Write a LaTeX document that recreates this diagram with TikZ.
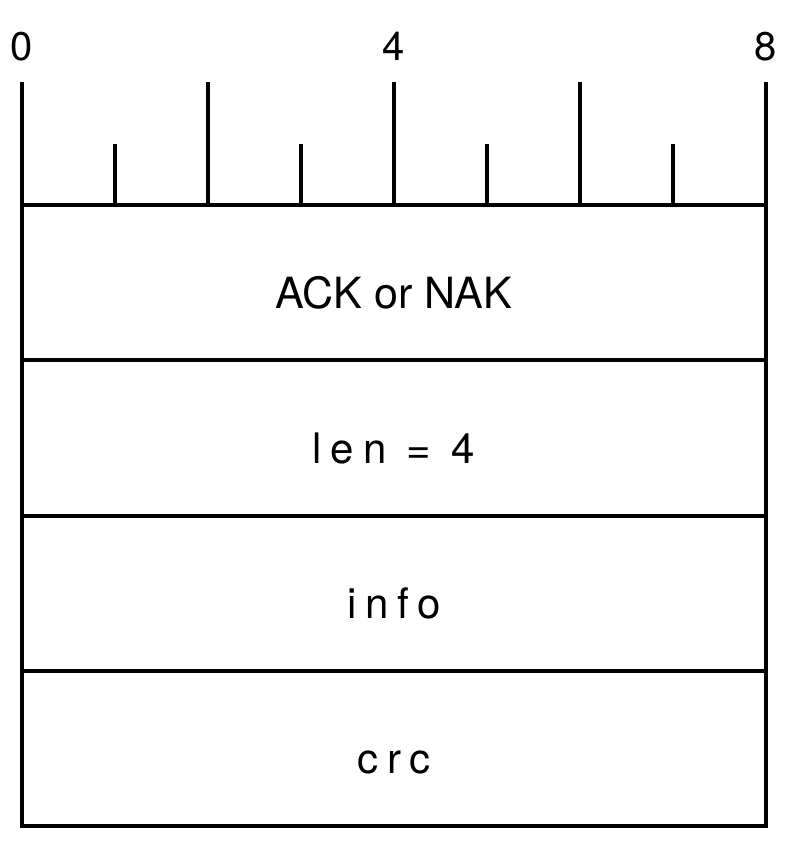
\documentclass[tikz,border=0pt]{standalone}
\usepackage{fontspec}
\setmainfont{TeX Gyre Heros}
\usepackage{tikz}
\usetikzlibrary{positioning}
\tikzset{
  field/.style={font=\fontsize{43}{43}\selectfont, anchor=base},
  spaced/.style={anchor=base, font=\fontsize{42}{42}\selectfont\addfontfeature{LetterSpace=21}},
  bitnum/.style={font=\fontsize{40}{40}\selectfont, anchor=base},
}

\begin{document}
\begin{tikzpicture}[x=1pt, y=-1pt, line width=3.2pt]

            \useasboundingbox (0,0) rectangle (797,846);

            % Bitskala oben, lange und kurze Striche
            \foreach \b in {0,2,4,6,8}
              \draw (22+\b*93,82) -- (22+\b*93,205);
            \foreach \b in {1,3,5,7}
              \draw (22+\b*93,144) -- (22+\b*93,205);

            % Bitnummern
            \foreach \b in {0,4,8}
              \node[bitnum] (bit\b) at (22+\b*93,60) {\b};

            % Rahmen und Trennlinien
            \draw (22,205) rectangle (766,826);
            \foreach \y in {360,516,671}
              \draw (22,\y) -- (766,\y);

            % Felder
            \node[field] (ack) at (394,308) {ACK or NAK};
            \node[spaced] (len) at (394,463) {len = 4};
            \node[spaced] (info) at (394,618) {info};
            \node[spaced] (crc) at (394,773) {crc};

         \end{tikzpicture}
\end{document}
